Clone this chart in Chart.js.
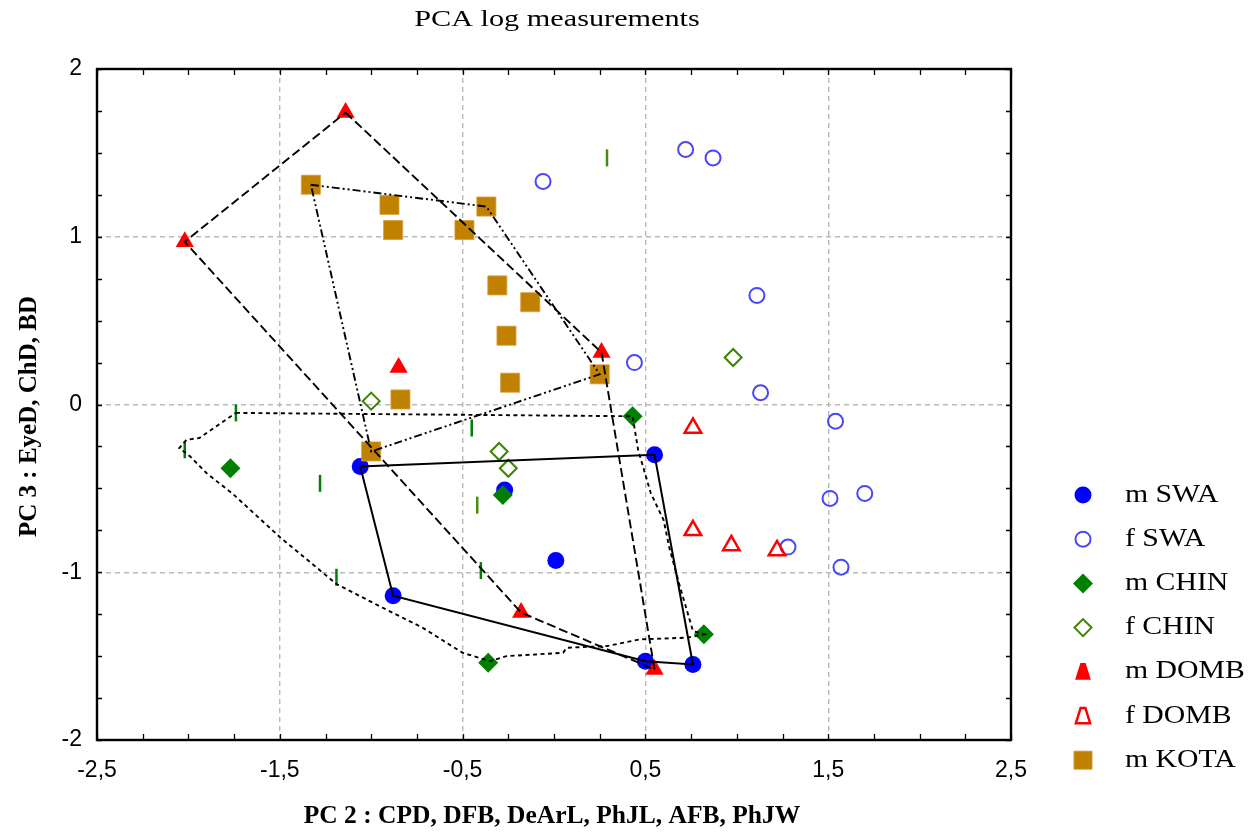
<!DOCTYPE html>
<html>
<head>
<meta charset="utf-8">
<title>PCA log measurements</title>
<script src="https://cdn.jsdelivr.net/npm/chart.js@4.4.1/dist/chart.umd.min.js"></script>
<style>
  html, body { margin: 0; padding: 0; background: #ffffff; }
  #wrap { width: 1256px; height: 832px; position: relative; }
  canvas { display: block; }
</style>
</head>
<body>
<div id="wrap"><canvas id="chart" width="1256" height="832"></canvas></div>
<script>
// ---------------- data ----------------
const chartTitle = 'PCA log measurements';
const xAxisTitle = 'PC 2 : CPD, DFB, DeArL, PhJL, AFB, PhJW';
const yAxisTitle = 'PC 3 : EyeD, ChD, BD';
const legendLabels = ['m SWA', 'f SWA', 'm CHIN', 'f CHIN', 'm DOMB', 'f DOMB', 'm KOTA'];

const mSWA_x = [-1.06, -0.88, -0.27, 0.01, 0.55, 0.50, 0.76];
const mSWA_y = [-0.37, -1.14, -0.51, -0.93, -0.30, -1.53, -1.55];

const fSWA_x = [0.72, 0.87, -0.06, 1.11, 0.44, 1.13, 1.54, 1.51, 1.70, 1.28, 1.57];
const fSWA_y = [1.52, 1.47, 1.33, 0.65, 0.25, 0.07, -0.10, -0.56, -0.53, -0.85, -0.97];

const mCHIN_x = [-1.77, -0.28, -0.36, 0.43, 0.82];
const mCHIN_y = [-0.38, -0.54, -1.54, -0.07, -1.37];

const fCHIN_x = [-1.00, -0.30, -0.25, 0.98];
const fCHIN_y = [0.02, -0.28, -0.38, 0.28];

// CHIN specimens drawn with a vertical bar marker (not in legend)
const barCHIN_x = [-1.74, -2.02, -1.28, -0.45, -1.19, -0.40];
const barCHIN_y = [-0.05, -0.27, -0.47, -0.14, -1.03, -0.99];
const barCHIN2_x = [-0.42, 0.29];
const barCHIN2_y = [-0.60, 1.47];

const mDOMB_x = [-1.14, -2.02, -0.85, 0.26, -0.18, 0.55];
const mDOMB_y = [1.74, 0.97, 0.22, 0.31, -1.24, -1.58];

const fDOMB_x = [0.76, 0.76, 0.97, 1.22];
const fDOMB_y = [-0.14, -0.75, -0.84, -0.87];

const mKOTA_x = [-1.33, -0.90, -0.88, -0.37, -0.49, -0.31, -0.13, -0.26, -0.24, -0.84, 0.25, -1.00];
const mKOTA_y = [1.31, 1.19, 1.04, 1.18, 1.04, 0.71, 0.61, 0.41, 0.13, 0.03, 0.18, -0.28];

// outline polygons (indices into the series above)
const swaHullIdx = [0, 4, 6, 5, 1, 0];
const dombHullIdx = [0, 3, 5, 4, 1, 0];
const kotaHullIdx = [0, 3, 10, 11, 0];

// CHIN outline (hand-drawn style envelope)
const chinOutline_x = [-1.74, 0.43, 0.46, 0.53, 0.60, 0.63, 0.69, 0.76, 0.82, 0.73, 0.47, 0.29, 0.07, 0.05, -0.10, -0.26, -0.35, -0.50, -0.72, -0.94, -1.19, -1.50, -1.76, -1.90, -1.99, -2.05, -2.01, -1.94, -1.74];
const chinOutline_y = [-0.05, -0.07, -0.27, -0.53, -0.69, -0.85, -1.09, -1.35, -1.37, -1.39, -1.40, -1.44, -1.45, -1.48, -1.49, -1.50, -1.53, -1.48, -1.33, -1.21, -1.07, -0.79, -0.53, -0.41, -0.31, -0.26, -0.21, -0.20, -0.05];

// ---------------- helpers ----------------
const pts = (xs, ys) => xs.map((v, i) => ({ x: v, y: ys[i] }));
const hull = (xs, ys, idx) => idx.map(i => ({ x: xs[i], y: ys[i] }));

const CLEAR = 'rgba(0,0,0,0)';

const pointSets = [
  { label: 'm SWA', data: pts(mSWA_x, mSWA_y), pointStyle: 'circle', pointRadius: 8.5,
    pointBackgroundColor: '#0000ff', pointBorderColor: '#0000ff', pointBorderWidth: 0 },
  { label: 'f SWA', data: pts(fSWA_x, fSWA_y), pointStyle: 'circle', pointRadius: 7.5,
    pointBackgroundColor: CLEAR, pointBorderColor: '#4646ff', pointBorderWidth: 2 },
  { label: 'm CHIN', data: pts(mCHIN_x, mCHIN_y), pointStyle: 'rectRot', pointRadius: 10,
    pointBackgroundColor: '#007f00', pointBorderColor: '#007f00', pointBorderWidth: 0 },
  { label: 'f CHIN', data: pts(fCHIN_x, fCHIN_y), pointStyle: 'rectRot', pointRadius: 8.5,
    pointBackgroundColor: CLEAR, pointBorderColor: '#3c8400', pointBorderWidth: 2 },
  { label: 'CHIN', data: pts(barCHIN_x, barCHIN_y), pointStyle: 'line', pointRotation: 90, pointRadius: 8.5,
    pointBackgroundColor: '#008000', pointBorderColor: '#008000', pointBorderWidth: 2.5, legend: false },
  { label: 'CHIN 2', data: pts(barCHIN2_x, barCHIN2_y), pointStyle: 'line', pointRotation: 90, pointRadius: 8.5,
    pointBackgroundColor: '#4a8a10', pointBorderColor: '#4a8a10', pointBorderWidth: 2.5, legend: false },
  { label: 'm DOMB', data: pts(mDOMB_x, mDOMB_y), pointStyle: 'triangle', pointRadius: 10.5,
    pointBackgroundColor: '#ff0000', pointBorderColor: '#ff0000', pointBorderWidth: 0 },
  { label: 'f DOMB', data: pts(fDOMB_x, fDOMB_y), pointStyle: 'triangle', pointRadius: 9.5,
    pointBackgroundColor: CLEAR, pointBorderColor: '#ff0000', pointBorderWidth: 2.5 },
  { label: 'm KOTA', data: pts(mKOTA_x, mKOTA_y), pointStyle: 'rect', pointRadius: 13.5,
    pointBackgroundColor: '#c08000', pointBorderColor: '#d9a040', pointBorderWidth: 0.8 }
];

const datasets = [];
pointSets.forEach((s, i) => {
  datasets.push(Object.assign({
    type: 'scatter', showLine: false, order: 50 - i,
    pointHoverRadius: s.pointRadius
  }, s));
});

const lineSet = (label, data, dash, width) => ({
  type: 'scatter', label, data, showLine: true, fill: false, tension: 0,
  borderColor: '#000000', borderWidth: width, borderDash: dash,
  pointRadius: 0, pointHoverRadius: 0, order: 0, legend: false
});
datasets.push(lineSet('SWA outline', hull(mSWA_x, mSWA_y, swaHullIdx), [], 2));
datasets.push(lineSet('DOMB outline', hull(mDOMB_x, mDOMB_y, dombHullIdx), [9, 4], 1.9));
datasets.push(lineSet('KOTA outline', hull(mKOTA_x, mKOTA_y, kotaHullIdx), [8, 3, 2, 3, 2, 3], 1.9));
datasets.push(lineSet('CHIN outline', pts(chinOutline_x, chinOutline_y), [4, 3.5], 1.9));

// ---------------- tick formatting ----------------
function xLabeled(v) {
  const h = Math.round(v * 2);
  return Math.abs(v * 2 - h) < 1e-6 && Math.abs(h) % 2 === 1;
}
function yLabeled(v) {
  return Math.abs(v - Math.round(v)) < 1e-6;
}

// ---------------- decorations plugin ----------------
function stretchText(ctx, text, x, y, font, sx, align) {
  ctx.save();
  ctx.font = font;
  ctx.textBaseline = 'middle';
  ctx.textAlign = align || 'center';
  ctx.translate(x, y);
  ctx.scale(sx, 1);
  ctx.fillText(text, 0, 0);
  ctx.restore();
}

function drawMarker(ctx, ds, x, y, scale) {
  const r = ds.pointRadius * scale;
  ctx.save();
  ctx.fillStyle = ds.pointBackgroundColor;
  ctx.strokeStyle = ds.pointBorderColor;
  ctx.lineWidth = ds.pointBorderWidth;
  ctx.beginPath();
  switch (ds.pointStyle) {
    case 'circle':
      ctx.arc(x, y, r, 0, Math.PI * 2);
      break;
    case 'rectRot':
      ctx.moveTo(x, y - r); ctx.lineTo(x + r, y); ctx.lineTo(x, y + r); ctx.lineTo(x - r, y);
      ctx.closePath();
      break;
    case 'triangle':
      ctx.moveTo(x - 0.25 * r, y - 0.85 * r);
      ctx.lineTo(x + 0.25 * r, y - 0.85 * r);
      ctx.lineTo(x + 0.75 * r, y + 0.75 * r);
      ctx.lineTo(x - 0.75 * r, y + 0.75 * r);
      ctx.closePath();
      break;
    case 'rect': {
      const h = r * Math.SQRT1_2;
      ctx.rect(x - h, y - h, 2 * h, 2 * h);
      break;
    }
  }
  ctx.fill();
  if (ds.pointBorderWidth > 0) ctx.stroke();
  ctx.restore();
}

const decor = {
  id: 'decor',
  afterDatasetsDraw(chart) {
    const { ctx, chartArea: a, scales } = chart;
    const xs = scales.x, ys = scales.y;
    ctx.save();
    ctx.strokeStyle = '#000000';
    ctx.lineWidth = 1.3;
    ctx.beginPath();
    xs.ticks.forEach(t => {
      const px = Math.round(xs.getPixelForValue(t.value)) + 0.5;
      ctx.moveTo(px, a.top); ctx.lineTo(px, a.top + 6);
      ctx.moveTo(px, a.bottom); ctx.lineTo(px, a.bottom - 6);
    });
    ys.ticks.forEach(t => {
      const py = Math.round(ys.getPixelForValue(t.value)) + 0.5;
      ctx.moveTo(a.left, py); ctx.lineTo(a.left + 5, py);
      ctx.moveTo(a.right, py); ctx.lineTo(a.right - 5, py);
    });
    ctx.stroke();
    ctx.lineWidth = 2.4;
    ctx.strokeRect(a.left, a.top, a.right - a.left, a.bottom - a.top);
    ctx.restore();
  },
  afterDraw(chart) {
    const { ctx, chartArea: a } = chart;
    const cx = (a.left + a.right) / 2;
    const cy = (a.top + a.bottom) / 2;
    ctx.save();
    ctx.fillStyle = '#000000';
    // chart title
    stretchText(ctx, chartTitle, cx + 3, 20, '24px "Liberation Serif", "Times New Roman", serif', 1.26, 'center');
    // x axis title
    stretchText(ctx, xAxisTitle, cx - 2, 817, 'bold 25px "Liberation Serif", "Times New Roman", serif', 1.02, 'center');
    // y axis title (rotated)
    ctx.save();
    ctx.translate(30, cy + 12);
    ctx.rotate(-Math.PI / 2);
    stretchText(ctx, yAxisTitle, 0, 0, 'bold 25px "Liberation Serif", "Times New Roman", serif', 1.0, 'center');
    ctx.restore();
    // legend
    const legendSets = chart.data.datasets.filter(d => d.legend !== false && legendLabels.includes(d.label));
    legendLabels.forEach((lab, i) => {
      const ds = legendSets.find(d => d.label === lab);
      const rowY = 495 + i * 44.2;
      if (ds) {
        const sc = ds.pointStyle === 'rect' ? 0.95 : 1.0;
        drawMarker(ctx, ds, 1083, rowY, sc);
      }
      ctx.fillStyle = '#000000';
      stretchText(ctx, lab, 1125, rowY, '25px "Liberation Serif", "Times New Roman", serif', 1.19, 'left');
    });
    ctx.restore();
  }
};

// ---------------- chart ----------------
const tickFont = { family: '"Liberation Sans", Arial, sans-serif', size: 23 };

new Chart(document.getElementById('chart'), {
  type: 'scatter',
  data: { datasets },
  options: {
    responsive: false,
    animation: false,
    devicePixelRatio: 1,
    layout: { padding: { top: 69, right: 245, bottom: 0, left: 0 } },
    plugins: {
      legend: { display: false },
      title: { display: false },
      tooltip: { enabled: false }
    },
    scales: {
      x: {
        type: 'linear', min: -2.5, max: 2.5,
        afterFit: s => { s.height = 92; },
        ticks: {
          stepSize: 0.25, autoSkip: false, maxRotation: 0, padding: 17,
          color: '#000000', font: tickFont,
          callback: v => xLabeled(v) ? (Math.round(v * 2) / 2).toFixed(1).replace('.', ',') : ''
        },
        grid: {
          drawTicks: false, lineWidth: 1.4,
          color: c => (c.tick && xLabeled(c.tick.value) && Math.abs(c.tick.value) < 2.4) ? '#b9b9b9' : CLEAR
        },
        border: { display: false, dash: [5, 4] }
      },
      y: {
        type: 'linear', min: -2, max: 2,
        afterFit: s => { s.width = 97; },
        ticks: {
          stepSize: 0.25, autoSkip: false, padding: 15,
          color: '#000000', font: tickFont,
          callback: v => yLabeled(v) ? String(Math.round(v)) : ''
        },
        grid: {
          drawTicks: false, lineWidth: 1.4,
          color: c => (c.tick && yLabeled(c.tick.value) && Math.abs(c.tick.value) < 1.9) ? '#b9b9b9' : CLEAR
        },
        border: { display: false, dash: [5, 4] }
      }
    }
  },
  plugins: [decor]
});
</script>
</body>
</html>
